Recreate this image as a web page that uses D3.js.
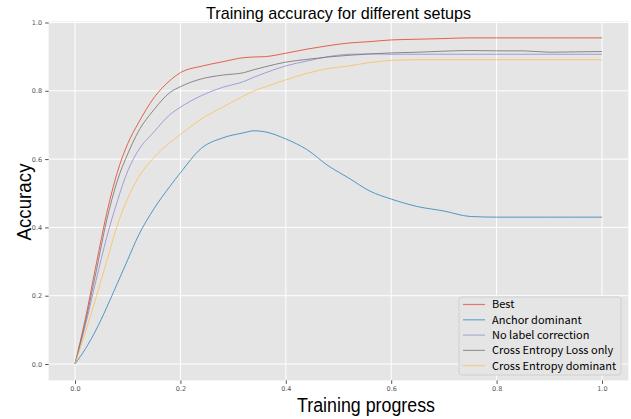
<!DOCTYPE html>
<html>
<head>
<meta charset="utf-8">
<script src="https://cdn.jsdelivr.net/npm/d3@7"></script>
<style>
  body { margin: 0; background: #fff; }
  svg { display: block; }
</style>
</head>
<body>
<svg width="631" height="419"></svg>
<script>
// training progress positions (fraction of run) where the curves were read
const progress = [0, 0.02, 0.04, 0.06, 0.08, 0.10, 0.12, 0.15, 0.18, 0.20, 0.24, 0.28, 0.32, 0.34, 0.36,
  0.40, 0.44, 0.48, 0.52, 0.56, 0.60, 0.65, 0.70, 0.75, 0.80, 0.85, 0.90, 0.95, 1.0];

const best = [0, 0.135, 0.29, 0.44, 0.56, 0.645, 0.705, 0.78, 0.83, 0.853, 0.872, 0.885, 0.897, 0.899, 0.900,
  0.910, 0.922, 0.932, 0.940, 0.944, 0.949, 0.951, 0.953, 0.955, 0.955, 0.955, 0.955, 0.955, 0.955];
const anchorDominant = [0, 0.045, 0.10, 0.165, 0.235, 0.305, 0.375, 0.455, 0.52, 0.56, 0.632, 0.662, 0.677, 0.683, 0.680,
  0.659, 0.628, 0.581, 0.544, 0.506, 0.483, 0.461, 0.448, 0.432, 0.430, 0.430, 0.430, 0.430, 0.430];
const noLabelCorrection = [0, 0.115, 0.245, 0.37, 0.475, 0.565, 0.625, 0.68, 0.73, 0.752, 0.786, 0.810, 0.827, 0.840, 0.852,
  0.873, 0.887, 0.900, 0.907, 0.908, 0.907, 0.907, 0.907, 0.907, 0.907, 0.907, 0.907, 0.907, 0.907];
const ceLossOnly = [0, 0.125, 0.27, 0.42, 0.535, 0.615, 0.68, 0.745, 0.795, 0.812, 0.835, 0.846, 0.853, 0.862, 0.870,
  0.884, 0.892, 0.899, 0.904, 0.908, 0.911, 0.913, 0.916, 0.918, 0.917, 0.917, 0.913, 0.914, 0.915];
const ceDominant = [0, 0.095, 0.195, 0.30, 0.405, 0.485, 0.545, 0.605, 0.648, 0.672, 0.718, 0.752, 0.785, 0.800, 0.811,
  0.832, 0.851, 0.865, 0.873, 0.883, 0.889, 0.891, 0.891, 0.891, 0.891, 0.891, 0.891, 0.891, 0.891];

const seriesNames = ["Best", "Anchor dominant", "No label correction", "Cross Entropy Loss only", "Cross Entropy dominant"];
const seriesValues = [best, anchorDominant, noLabelCorrection, ceLossOnly, ceDominant];
const colors = ["#E24A33", "#348ABD", "#988ED5", "#777777", "#FBC15E"];

const xTicks = [0, 0.2, 0.4, 0.6, 0.8, 1.0];
const yTicks = [0, 0.2, 0.4, 0.6, 0.8, 1.0];

const svg = d3.select("svg");

const x = d3.scaleLinear().domain([0, 1]).range([75, 602]);
const y = d3.scaleLinear().domain([0, 1]).range([364, 22.5]);

const plotLeft = x(-0.05), plotRight = x(1.05), plotTop = y(1.003), plotBottom = y(-0.048);

// plot background
svg.append("rect")
  .attr("x", plotLeft).attr("y", plotTop)
  .attr("width", plotRight - plotLeft).attr("height", plotBottom - plotTop)
  .attr("fill", "#E5E5E5");

// grid
svg.append("g").selectAll("line")
  .data(xTicks).join("line")
  .attr("x1", d => x(d)).attr("x2", d => x(d))
  .attr("y1", plotTop).attr("y2", plotBottom)
  .attr("stroke", "#fff").attr("stroke-width", 1);
svg.append("g").selectAll("line")
  .data(yTicks).join("line")
  .attr("x1", plotLeft).attr("x2", plotRight)
  .attr("y1", d => y(d)).attr("y2", d => y(d))
  .attr("stroke", "#fff").attr("stroke-width", 1);

// axes
const xAxis = svg.append("g")
  .attr("transform", `translate(0,${plotBottom})`)
  .call(d3.axisBottom(x).tickValues(xTicks).tickFormat(d3.format(".1f")).tickSize(3.5).tickPadding(2.5));
const yAxis = svg.append("g")
  .attr("transform", `translate(${plotLeft},0)`)
  .call(d3.axisLeft(y).tickValues(yTicks).tickFormat(d3.format(".1f")).tickSize(3.5).tickPadding(3));
[xAxis, yAxis].forEach(a => {
  a.select(".domain").remove();
  a.selectAll(".tick line").attr("stroke", "#555");
  a.selectAll(".tick text")
    .attr("fill", "#555")
    .style("font-family", "DejaVu Sans")
    .style("font-size", "6.5px");
});

// curves
const line = d3.line()
  .x((d, i) => x(progress[i]))
  .y(d => y(d))
  .curve(d3.curveMonotoneX);

svg.append("g").selectAll("path")
  .data(seriesValues).join("path")
  .attr("d", d => line(d))
  .attr("fill", "none")
  .attr("stroke", (d, i) => colors[i])
  .attr("stroke-opacity", 0.85)
  .attr("stroke-width", 1);

// title and labels (the original font is narrow, so squeeze to its width)
svg.append("text")
  .attr("x", (plotLeft + plotRight) / 2).attr("y", 19)
  .attr("text-anchor", "middle")
  .attr("textLength", 265).attr("lengthAdjust", "spacingAndGlyphs")
  .style("font-family", "Liberation Sans")
  .style("font-size", "17px")
  .text("Training accuracy for different setups");

svg.append("text")
  .attr("x", 366).attr("y", 412)
  .attr("text-anchor", "middle")
  .attr("textLength", 138).attr("lengthAdjust", "spacingAndGlyphs")
  .style("font-family", "Liberation Sans")
  .style("font-size", "20px")
  .text("Training progress");

svg.append("text")
  .attr("transform", "translate(31,202) rotate(-90)")
  .attr("text-anchor", "middle")
  .attr("textLength", 77).attr("lengthAdjust", "spacingAndGlyphs")
  .style("font-family", "Liberation Sans")
  .style("font-size", "20px")
  .text("Accuracy");

// legend
const legend = svg.append("g");
legend.append("rect")
  .attr("x", 459).attr("y", 297)
  .attr("width", 162).attr("height", 78)
  .attr("rx", 3)
  .attr("fill", "#E5E5E5")
  .attr("stroke", "#d0d0d0");
const item = legend.selectAll("g.item")
  .data(seriesNames).join("g")
  .attr("class", "item")
  .attr("transform", (d, i) => `translate(0,${304.5 + i * 15.3})`);
item.append("line")
  .attr("x1", 463).attr("x2", 485)
  .attr("stroke", (d, i) => colors[i])
  .attr("stroke-opacity", 0.7)
  .attr("stroke-width", 1.2);
item.append("text")
  .attr("x", 492).attr("dy", "0.35em")
  .style("font-family", "Noto Sans CJK JP")
  .style("font-size", "11px")
  .text(d => d);
</script>
</body>
</html>
